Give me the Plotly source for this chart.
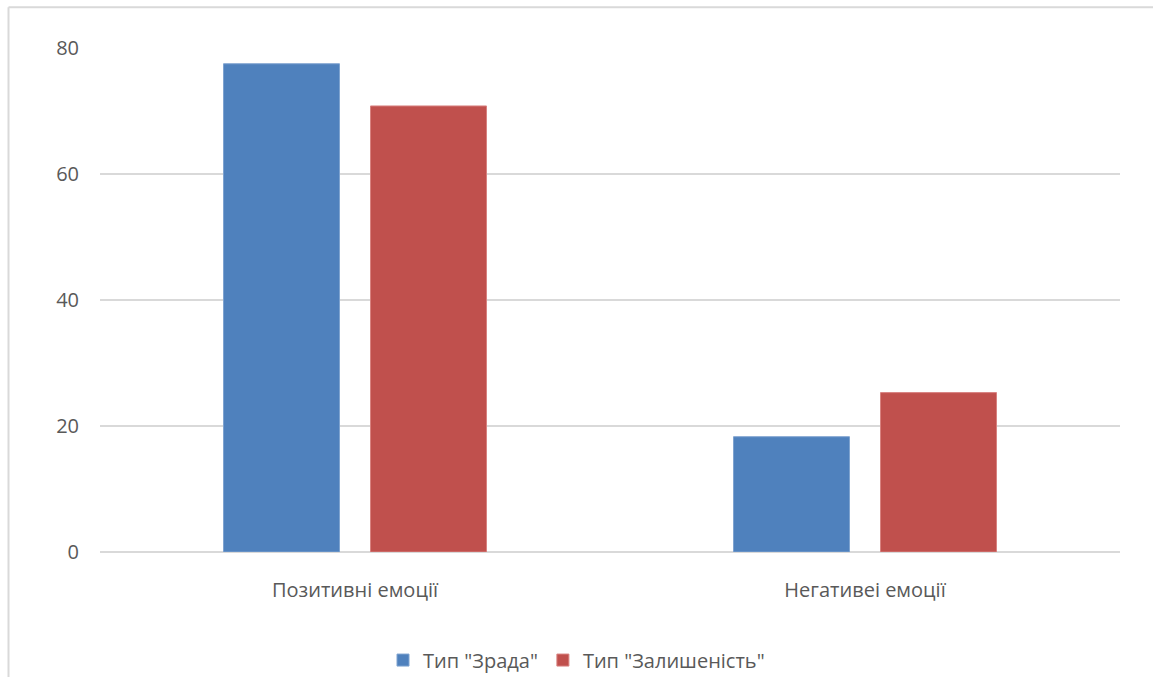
import plotly.graph_objects as go

categories = ["Позитивні емоції", "Негативеі емоції"]
zrada = [77.5, 18.3]
zalyshenist = [70.8, 25.3]
series_names = ['Тип "Зрада"', 'Тип "Залишеність"']
y_ticks = [0, 20, 40, 60, 80]

BLUE = "#4F81BD"
RED = "#C0504D"
TEXT = "#595959"
FONT = "Open Sans"
FS = 20

fig = go.Figure()
fig.add_trace(go.Bar(
    x=categories, y=zrada, name=series_names[0],
    marker=dict(color=BLUE, line=dict(color="#7FA3D0", width=1)),
))
fig.add_trace(go.Bar(
    x=categories, y=zalyshenist, name=series_names[1],
    marker=dict(color=RED, line=dict(color="#D88280", width=1)),
))

# outer chart frame (top and left edges)
frame = dict(color="#D9D9D9", width=2)
fig.add_shape(type="line", xref="paper", yref="paper",
              x0=-0.0897, x1=1.05, y0=1.081, y1=1.081, line=frame)
fig.add_shape(type="line", xref="paper", yref="paper",
              x0=-0.0897, x1=-0.0897, y0=1.081, y1=-0.3, line=frame)

fig.update_layout(
    width=1153, height=677,
    margin=dict(l=100, r=33, t=48, b=125, autoexpand=False),
    paper_bgcolor="white", plot_bgcolor="white",
    barmode="group", bargap=0.4235, bargroupgap=0.211,
    font=dict(family=FONT, size=FS, color=TEXT),
    showlegend=True,
    legend=dict(orientation="h", x=0.5, xref="container", xanchor="center",
                y=0.025, yref="container", yanchor="middle",
                font=dict(size=FS, color=TEXT), itemwidth=30, traceorder="normal"),
    xaxis=dict(showgrid=False, showline=False, ticks="", automargin=False,
               ticklabelstandoff=24, tickfont=dict(size=FS, color=TEXT)),
    yaxis=dict(range=[0, 80], tickvals=y_ticks, showgrid=True, gridcolor="#D9D9D9",
               gridwidth=1.5, zeroline=True, zerolinecolor="#D9D9D9", zerolinewidth=1.5,
               showline=False, ticks="", ticklabelstandoff=20, automargin=False,
               tickfont=dict(size=FS, color=TEXT)),
)

fig.write_html("out.html")
